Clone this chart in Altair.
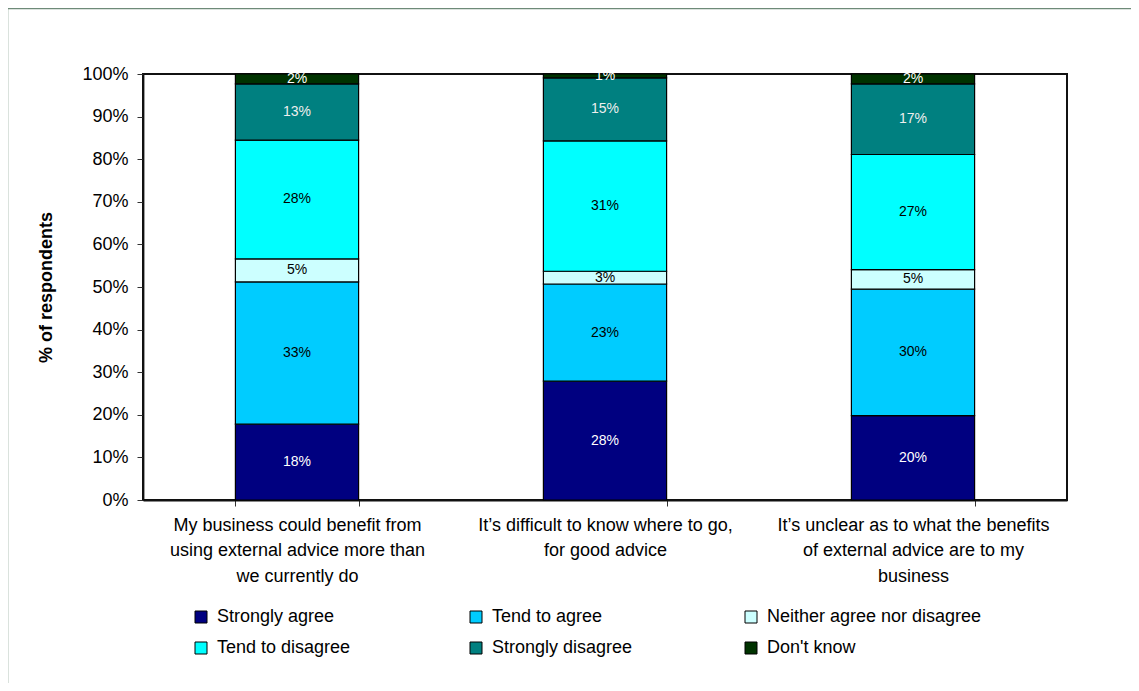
import altair as alt
import pandas as pd

categories = [
    "My business could benefit from|using external advice more than|we currently do",
    "It\u2019s difficult to know where to go,|for good advice",
    "It\u2019s unclear as to what the benefits|of external advice are to my|business",
]
responses = [
    "Strongly agree",
    "Tend to agree",
    "Neither agree nor disagree",
    "Tend to disagree",
    "Strongly disagree",
    "Don't know",
]
colors = ["#000080", "#00CCFF", "#CCFFFF", "#00FFFF", "#008080", "#003300"]
label_colors = ["white", "black", "black", "black", "#EEEEEE", "white"]

strongly_agree = [17.8, 27.9, 19.8]
tend_to_agree = [33.4, 22.8, 29.7]
neither = [5.4, 3.0, 4.6]
tend_to_disagree = [27.9, 30.6, 27.0]
strongly_disagree = [13.2, 14.8, 16.6]
dont_know = [2.3, 0.9, 2.3]

series = [strongly_agree, tend_to_agree, neither, tend_to_disagree, strongly_disagree, dont_know]

rows = []
for ci, cat in enumerate(categories):
    for ri, resp in enumerate(responses):
        v = series[ri][ci]
        rows.append({
            "cat": cat,
            "resp": resp,
            "idx": ri,
            "frac": v / 100.0,
            "lab": f"{round(v):d}%",
            "lc": label_colors[ri],
        })
df = pd.DataFrame(rows)

FONT = "Liberation Sans"

base = alt.Chart(df).transform_stack(
    stack="frac", as_=["y0", "y1"], groupby=["cat"], sort=[alt.SortField("idx", order="ascending")]
).transform_calculate(mid="(datum.y0 + datum.y1) / 2")

x_enc = alt.X(
    "cat:N",
    sort=categories,
    title=None,
    scale=alt.Scale(paddingInner=0.6, paddingOuter=0.3),
    axis=alt.Axis(
        labelExpr="split(datum.label, '|')",
        labelAngle=0,
        labelFont=FONT,
        labelFontSize=18,
        labelColor="black",
        labelLineHeight=25.5,
        labelPadding=10,
        labelLimit=400,
        tickBand="extent",
        tickSize=6,
        tickColor="#333",
        domainColor="#111",
        domainWidth=1.8,
    ),
)

bars = base.mark_bar(stroke="black", strokeWidth=1.2).encode(
    x=x_enc,
    y=alt.Y(
        "y0:Q",
        scale=alt.Scale(domain=[0, 1], nice=False),
        title="% of respondents",
        axis=alt.Axis(
            format=".0%",
            values=[i / 10 for i in range(11)],
            labelFont=FONT,
            labelFontSize=18,
            labelColor="black",
            labelPadding=9,
            tickSize=6,
            tickColor="#333",
            domainColor="#111",
            domainWidth=1.8,
            grid=False,
            titleFont=FONT,
            titleFontSize=18,
            titleFontWeight="bold",
            titleColor="black",
            titlePadding=26,
        ),
    ),
    y2="y1:Q",
    color=alt.Color(
        "resp:N",
        sort=responses,
        scale=alt.Scale(domain=responses, range=colors),
        legend=alt.Legend(
            title=None,
            orient="none",
            legendX=49,
            legendY=534,
            direction="horizontal",
            columns=3,
            gridAlign="all",
            columnPadding=35,
            rowPadding=13,
            padding=0,
            symbolType="square",
            symbolSize=144,
            symbolStrokeColor="black",
            symbolStrokeWidth=1,
            labelFont=FONT,
            labelFontSize=18,
            labelColor="black",
            labelOffset=7,
            labelLimit=400,
        ),
    ),
)

texts = base.mark_text(font=FONT, fontSize=14, baseline="middle").encode(
    x=alt.X("cat:N", sort=categories),
    y=alt.Y("mid:Q"),
    text="lab:N",
    color=alt.Color("lc:N", scale=None),
)

frame = alt.Chart(pd.DataFrame({"k": [0]})).mark_rect(
    filled=False, stroke="#6E8A78", strokeWidth=2.5
).encode(
    x=alt.value(-136), x2=alt.value(1100), y=alt.value(-66), y2=alt.value(900)
)

chart = alt.layer(frame, bars, texts).properties(
    width=924,
    height=426,
    background="white",
    autosize=alt.AutoSizeParams(type="none"),
    padding={"left": 135, "top": 66, "right": 64, "bottom": 183},
).configure_view(stroke="#111111", strokeWidth=2)

chart.save("out.html", embed_options={"renderer": "svg", "actions": False})
